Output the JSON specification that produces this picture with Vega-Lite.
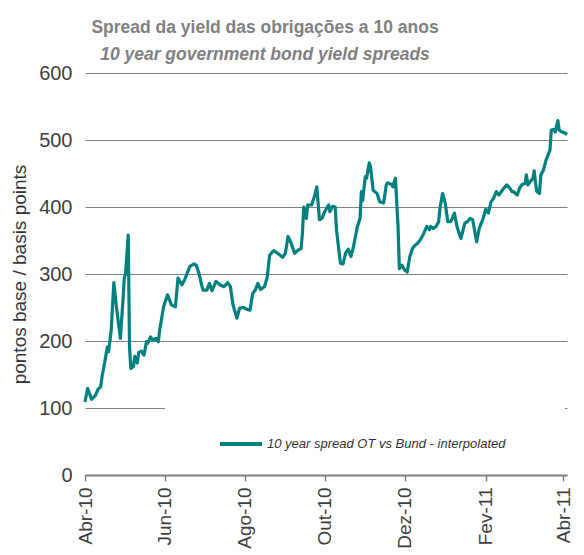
{
  "$schema": "https://vega.github.io/schema/vega-lite/v6.json",
  "width": 482,
  "height": 402,
  "autosize": "none",
  "padding": {"left": 85, "top": 73, "right": 17, "bottom": 80},
  "background": "white",
  "title": {
    "text": "Spread da yield das obrigações a 10 anos",
    "subtitle": "10 year government bond yield spreads",
    "anchor": "middle",
    "dx": -61,
    "offset": 0,
    "font": "Liberation Sans",
    "fontSize": 17.5,
    "fontWeight": "bold",
    "color": "#808080",
    "subtitleFont": "Liberation Sans",
    "subtitleFontSize": 17.5,
    "subtitleFontWeight": "bold",
    "subtitleFontStyle": "italic",
    "subtitleColor": "#808080",
    "subtitlePadding": 9
  },
  "data": {
    "values": [
      {"date": "2010-04-01", "value": 109},
      {"date": "2010-04-03", "value": 129},
      {"date": "2010-04-06", "value": 113},
      {"date": "2010-04-09", "value": 119},
      {"date": "2010-04-11", "value": 128},
      {"date": "2010-04-13", "value": 132},
      {"date": "2010-04-14", "value": 147},
      {"date": "2010-04-16", "value": 167},
      {"date": "2010-04-18", "value": 191},
      {"date": "2010-04-19", "value": 184},
      {"date": "2010-04-21", "value": 216},
      {"date": "2010-04-23", "value": 287},
      {"date": "2010-04-25", "value": 251},
      {"date": "2010-04-28", "value": 204},
      {"date": "2010-04-30", "value": 261},
      {"date": "2010-05-01", "value": 294},
      {"date": "2010-05-02", "value": 301},
      {"date": "2010-05-04", "value": 358},
      {"date": "2010-05-05", "value": 191},
      {"date": "2010-05-06", "value": 159},
      {"date": "2010-05-08", "value": 162},
      {"date": "2010-05-09", "value": 177},
      {"date": "2010-05-11", "value": 167},
      {"date": "2010-05-12", "value": 183},
      {"date": "2010-05-14", "value": 185},
      {"date": "2010-05-16", "value": 179},
      {"date": "2010-05-18", "value": 199},
      {"date": "2010-05-19", "value": 197},
      {"date": "2010-05-21", "value": 206},
      {"date": "2010-05-23", "value": 201},
      {"date": "2010-05-25", "value": 204},
      {"date": "2010-05-27", "value": 199},
      {"date": "2010-05-28", "value": 216},
      {"date": "2010-05-31", "value": 251},
      {"date": "2010-06-03", "value": 269},
      {"date": "2010-06-06", "value": 254},
      {"date": "2010-06-09", "value": 251},
      {"date": "2010-06-11", "value": 294},
      {"date": "2010-06-14", "value": 284},
      {"date": "2010-06-16", "value": 291},
      {"date": "2010-06-20", "value": 311},
      {"date": "2010-06-23", "value": 315},
      {"date": "2010-06-25", "value": 313},
      {"date": "2010-06-27", "value": 301},
      {"date": "2010-06-30", "value": 276},
      {"date": "2010-07-03", "value": 276},
      {"date": "2010-07-05", "value": 286},
      {"date": "2010-07-07", "value": 275},
      {"date": "2010-07-10", "value": 289},
      {"date": "2010-07-13", "value": 284},
      {"date": "2010-07-16", "value": 281},
      {"date": "2010-07-19", "value": 287},
      {"date": "2010-07-21", "value": 281},
      {"date": "2010-07-23", "value": 254},
      {"date": "2010-07-26", "value": 234},
      {"date": "2010-07-28", "value": 249},
      {"date": "2010-07-31", "value": 250},
      {"date": "2010-08-03", "value": 247},
      {"date": "2010-08-05", "value": 246},
      {"date": "2010-08-07", "value": 271},
      {"date": "2010-08-09", "value": 276},
      {"date": "2010-08-11", "value": 286},
      {"date": "2010-08-13", "value": 277},
      {"date": "2010-08-16", "value": 281},
      {"date": "2010-08-18", "value": 294},
      {"date": "2010-08-20", "value": 328},
      {"date": "2010-08-23", "value": 335},
      {"date": "2010-08-26", "value": 331},
      {"date": "2010-08-30", "value": 325},
      {"date": "2010-09-01", "value": 331},
      {"date": "2010-09-03", "value": 356},
      {"date": "2010-09-05", "value": 348},
      {"date": "2010-09-08", "value": 331},
      {"date": "2010-09-11", "value": 336},
      {"date": "2010-09-13", "value": 338},
      {"date": "2010-09-14", "value": 361},
      {"date": "2010-09-15", "value": 400},
      {"date": "2010-09-17", "value": 383},
      {"date": "2010-09-18", "value": 403},
      {"date": "2010-09-21", "value": 403},
      {"date": "2010-09-23", "value": 415},
      {"date": "2010-09-25", "value": 430},
      {"date": "2010-09-27", "value": 381},
      {"date": "2010-09-29", "value": 383},
      {"date": "2010-10-01", "value": 393},
      {"date": "2010-10-04", "value": 403},
      {"date": "2010-10-05", "value": 393},
      {"date": "2010-10-07", "value": 401},
      {"date": "2010-10-09", "value": 400},
      {"date": "2010-10-10", "value": 366},
      {"date": "2010-10-13", "value": 316},
      {"date": "2010-10-15", "value": 315},
      {"date": "2010-10-17", "value": 331},
      {"date": "2010-10-19", "value": 337},
      {"date": "2010-10-21", "value": 326},
      {"date": "2010-10-23", "value": 341},
      {"date": "2010-10-26", "value": 371},
      {"date": "2010-10-28", "value": 383},
      {"date": "2010-10-29", "value": 423},
      {"date": "2010-10-30", "value": 410},
      {"date": "2010-11-01", "value": 445},
      {"date": "2010-11-02", "value": 443},
      {"date": "2010-11-04", "value": 466},
      {"date": "2010-11-05", "value": 460},
      {"date": "2010-11-07", "value": 425},
      {"date": "2010-11-10", "value": 420},
      {"date": "2010-11-12", "value": 408},
      {"date": "2010-11-15", "value": 406},
      {"date": "2010-11-17", "value": 433},
      {"date": "2010-11-18", "value": 436},
      {"date": "2010-11-21", "value": 434},
      {"date": "2010-11-22", "value": 430},
      {"date": "2010-11-24", "value": 443},
      {"date": "2010-11-26", "value": 371},
      {"date": "2010-11-27", "value": 308},
      {"date": "2010-11-29", "value": 313},
      {"date": "2010-12-01", "value": 306},
      {"date": "2010-12-03", "value": 303},
      {"date": "2010-12-05", "value": 326},
      {"date": "2010-12-07", "value": 338},
      {"date": "2010-12-09", "value": 343},
      {"date": "2010-12-11", "value": 346},
      {"date": "2010-12-13", "value": 351},
      {"date": "2010-12-15", "value": 358},
      {"date": "2010-12-18", "value": 371},
      {"date": "2010-12-20", "value": 366},
      {"date": "2010-12-21", "value": 371},
      {"date": "2010-12-23", "value": 368},
      {"date": "2010-12-25", "value": 371},
      {"date": "2010-12-27", "value": 378},
      {"date": "2010-12-28", "value": 398},
      {"date": "2010-12-30", "value": 420},
      {"date": "2011-01-01", "value": 406},
      {"date": "2011-01-03", "value": 378},
      {"date": "2011-01-05", "value": 378},
      {"date": "2011-01-06", "value": 381},
      {"date": "2011-01-08", "value": 391},
      {"date": "2011-01-10", "value": 371},
      {"date": "2011-01-13", "value": 353},
      {"date": "2011-01-16", "value": 376},
      {"date": "2011-01-18", "value": 378},
      {"date": "2011-01-20", "value": 383},
      {"date": "2011-01-22", "value": 381},
      {"date": "2011-01-25", "value": 348},
      {"date": "2011-01-27", "value": 368},
      {"date": "2011-01-30", "value": 383},
      {"date": "2011-02-01", "value": 397},
      {"date": "2011-02-03", "value": 391},
      {"date": "2011-02-05", "value": 408},
      {"date": "2011-02-07", "value": 413},
      {"date": "2011-02-09", "value": 423},
      {"date": "2011-02-11", "value": 418},
      {"date": "2011-02-14", "value": 426},
      {"date": "2011-02-17", "value": 433},
      {"date": "2011-02-19", "value": 429},
      {"date": "2011-02-21", "value": 423},
      {"date": "2011-02-22", "value": 423},
      {"date": "2011-02-25", "value": 418},
      {"date": "2011-02-27", "value": 429},
      {"date": "2011-03-01", "value": 434},
      {"date": "2011-03-03", "value": 435},
      {"date": "2011-03-04", "value": 448},
      {"date": "2011-03-05", "value": 433},
      {"date": "2011-03-07", "value": 438},
      {"date": "2011-03-09", "value": 443},
      {"date": "2011-03-10", "value": 454},
      {"date": "2011-03-11", "value": 435},
      {"date": "2011-03-12", "value": 423},
      {"date": "2011-03-14", "value": 420},
      {"date": "2011-03-15", "value": 448},
      {"date": "2011-03-17", "value": 455},
      {"date": "2011-03-19", "value": 470},
      {"date": "2011-03-22", "value": 485},
      {"date": "2011-03-23", "value": 515},
      {"date": "2011-03-25", "value": 516},
      {"date": "2011-03-26", "value": 512},
      {"date": "2011-03-28", "value": 529},
      {"date": "2011-03-29", "value": 515},
      {"date": "2011-03-31", "value": 512},
      {"date": "2011-04-02", "value": 511},
      {"date": "2011-04-04", "value": 508}
    ]
  },
  "mark": {"type": "line", "strokeWidth": 3.2, "strokeJoin": "round"},
  "encoding": {
    "x": {
      "field": "date",
      "type": "temporal",
      "scale": {
        "type": "utc",
        "domain": [
          {"year": 2010, "month": 4, "date": 1, "utc": true},
          {"year": 2011, "month": 4, "date": 4, "utc": true}
        ]
      },
      "axis": {
        "title": null,
        "values": [
          {"year": 2010, "month": 4, "date": 1, "utc": true},
          {"year": 2010, "month": 6, "date": 1, "utc": true},
          {"year": 2010, "month": 8, "date": 1, "utc": true},
          {"year": 2010, "month": 10, "date": 1, "utc": true},
          {"year": 2010, "month": 12, "date": 1, "utc": true},
          {"year": 2011, "month": 2, "date": 1, "utc": true},
          {"year": 2011, "month": 4, "date": 1, "utc": true}
        ],
        "labelExpr": "['Jan','Fev','Mar','Abr','Mai','Jun','Jul','Ago','Set','Out','Nov','Dez'][utcmonth(datum.value)] + '-' + utcFormat(datum.value, '%y')",
        "labelAngle": -90,
        "labelFont": "Liberation Sans",
        "labelFontSize": 19,
        "labelColor": "#404040",
        "labelPadding": 6,
        "labelOverlap": false,
        "labelFlush": false,
        "grid": false,
        "domainColor": "#808080",
        "domainWidth": 2,
        "tickColor": "#808080",
        "tickSize": 6,
        "tickWidth": 1.5
      }
    },
    "y": {
      "field": "value",
      "type": "quantitative",
      "scale": {"domain": [0, 600], "nice": false},
      "axis": {
        "title": "pontos base / basis points",
        "values": [0, 100, 200, 300, 400, 500, 600],
        "grid": true,
        "gridColor": "#808080",
        "gridWidth": 1,
        "domain": false,
        "ticks": false,
        "labelFont": "Liberation Sans",
        "labelFontSize": 20,
        "labelColor": "#404040",
        "labelPadding": 13,
        "titleFont": "Liberation Sans",
        "titleFontSize": 19,
        "titleFontWeight": "normal",
        "titleColor": "#333333",
        "titlePadding": 9
      }
    },
    "color": {
      "datum": "10 year spread OT vs Bund - interpolated",
      "type": "nominal",
      "scale": {"range": ["#008080"]},
      "legend": {
        "title": "\u00a0",
        "titleOrient": "right",
        "titlePadding": 46,
        "orient": "none",
        "legendX": 80,
        "legendY": 334,
        "fillColor": "white",
        "padding": 14,
        "symbolType": "stroke",
        "symbolSize": 1764,
        "symbolStrokeWidth": 4,
        "symbolOffset": 39,
        "labelFont": "Liberation Sans",
        "labelFontStyle": "italic",
        "labelFontSize": 13,
        "labelColor": "#333333",
        "labelOffset": 3,
        "labelLimit": 400
      }
    }
  },
  "config": {
    "view": {"stroke": null}
  }
}
